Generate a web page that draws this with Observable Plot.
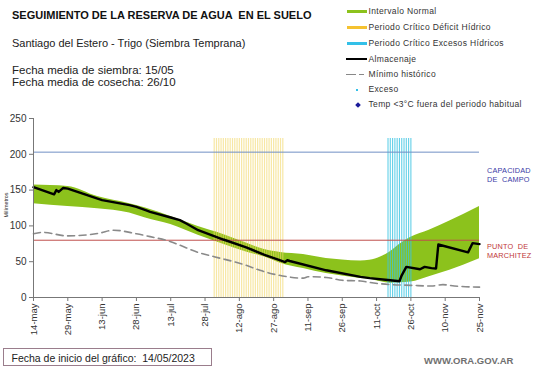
<!DOCTYPE html>
<html><head><meta charset="utf-8">
<script src="https://cdn.jsdelivr.net/npm/d3@7"></script>
<script src="https://cdn.jsdelivr.net/npm/@observablehq/plot@0.6"></script>
<style>
body{margin:0;background:#fff;}
#wrap{position:relative;width:541px;height:368px;overflow:hidden;font-family:"Liberation Sans",Arial,sans-serif;color:#222;background:#fff;}
#wrap svg{position:absolute;left:0;top:0;}
.t{position:absolute;white-space:nowrap;line-height:1;}
.sw{position:absolute;}
</style></head><body><div id="wrap"></div>
<script>
const parse = d3.utcParse("%Y-%m-%d");

// ---- data ----
const tickDates = ["2023-05-14","2023-05-29","2023-06-13","2023-06-28","2023-07-13","2023-07-28","2023-08-12","2023-08-27","2023-09-11","2023-09-26","2023-10-11","2023-10-26","2023-11-10","2023-11-25"];
const tickLabels = ["14-may","29-may","13-jun","28-jun","13-jul","28-jul","12-ago","27-ago","11-sep","26-sep","11-oct","26-oct","10-nov","25-nov"];
const yTicks = [0,50,100,150,200,250];
const capacidadCampo = 203;
const puntoMarchitez = 80;
const barTop = 222;
const deficitDays = ["2023-08-01","2023-08-02","2023-08-03","2023-08-04","2023-08-05","2023-08-06","2023-08-07","2023-08-08","2023-08-09","2023-08-10","2023-08-11","2023-08-12","2023-08-13","2023-08-14","2023-08-15","2023-08-16","2023-08-17","2023-08-18","2023-08-19","2023-08-20","2023-08-21","2023-08-22","2023-08-23","2023-08-24","2023-08-25","2023-08-26","2023-08-27","2023-08-28","2023-08-29","2023-08-30","2023-08-31"];
const excesoDays = ["2023-10-16","2023-10-17","2023-10-18","2023-10-19","2023-10-20","2023-10-21","2023-10-22","2023-10-23","2023-10-24","2023-10-25","2023-10-26"];
const almacenaje = [
  ["2023-05-14",154],["2023-05-23",144],["2023-05-24",150],["2023-05-25",147.5],["2023-05-27",153],["2023-05-29",152],
  ["2023-06-11",138],["2023-06-13",136],["2023-06-25",129],["2023-06-28",126.5],["2023-07-02",122],["2023-07-04",119.6],
  ["2023-07-13",111.7],["2023-07-17",108],["2023-07-20",103],["2023-07-25",94],["2023-08-05",81],["2023-08-15",70],
  ["2023-08-23",59.5],["2023-08-29",53],["2023-09-01",49.5],["2023-09-02",52],["2023-09-03",51],["2023-09-19",38],
  ["2023-10-04",28.8],["2023-10-08",27],["2023-10-17",24],["2023-10-21",22.7],["2023-10-22",31],["2023-10-24",42.7],
  ["2023-10-30",39.5],["2023-11-01",42.7],["2023-11-04",41],["2023-11-06",40.5],["2023-11-07",74],["2023-11-20",63],
  ["2023-11-22",76],["2023-11-25",74.5]
];
const bandDates = ["2023-05-14","2023-05-29","2023-06-11","2023-06-25","2023-07-02","2023-07-13","2023-07-25","2023-08-05","2023-08-15","2023-08-23","2023-08-30","2023-09-09","2023-09-19","2023-09-26","2023-10-04","2023-10-08","2023-10-13","2023-10-17","2023-10-21","2023-10-26","2023-11-03","2023-11-12","2023-11-18","2023-11-25"];
const bandUpper = [157,155,141,131,125,113,99,88,76,67,63,60,54.5,52.5,51,52,57,64,74,84,94,107,116,127];
const bandLower = [131,127,124,118,111,102,87,74.5,63.5,56.5,48,40.5,33.5,30,26.5,25.5,22,20,20.5,21.5,29,38,45,54];
const minimo = [
  ["2023-05-14",89],["2023-05-18",91],["2023-05-29",86],["2023-06-12",90],["2023-06-18",94],["2023-06-28",89],
  ["2023-07-04",85],["2023-07-13",78],["2023-07-17",73],["2023-07-25",63],["2023-08-01",57],["2023-08-15",45],
  ["2023-08-21",38],["2023-09-02",29],["2023-09-09",27],["2023-09-11",29],["2023-09-19",28],["2023-09-26",24],
  ["2023-10-04",23],["2023-10-08",21],["2023-10-17",18],["2023-10-26",17],["2023-11-04",16],["2023-11-09",18],
  ["2023-11-14",16],["2023-11-25",14.5]
];
const legendLabels = ["Intervalo Normal","Periodo Crítico Déficit Hídrico","Periodo Crítico Excesos Hídricos","Almacenaje","Mínimo histórico","Exceso","Temp <3°C fuera del periodo habitual"];
const legendColors = ["#8cc21c","#f5c230","#33c0e8","#000","#888","#33c0e8","#1a1a9a"];

// ---- tables ----
const band = bandDates.map((d,i)=>({date:parse(d), lo:bandLower[i], hi:bandUpper[i]}));
const alm = almacenaje.map(([d,v])=>({date:parse(d), v}));
const minT = minimo.map(([d,v])=>({date:parse(d), v}));
const deficit = deficitDays.map(d=>({date:parse(d)}));
const exceso = excesoDays.map(d=>({date:parse(d)}));
const ticks = tickDates.map(parse);
const labelMap = new Map(ticks.map((d,i)=>[+d, tickLabels[i]]));
const xDomain = [ticks[0], ticks[ticks.length-1]];

const chart = Plot.plot({
  width:541, height:368, marginTop:118, marginBottom:71, marginLeft:33, marginRight:62,
  style:{fontFamily:"'Liberation Sans', Arial, sans-serif", fontSize:"10px", color:"#333", background:"transparent", overflow:"visible"},
  x:{type:"utc", domain:xDomain},
  y:{domain:[0,250]},
  marks:[
    Plot.areaY(band,{x:"date", y1:"lo", y2:"hi", fill:"#8cc21c", curve:"monotone-x"}),
    Plot.ruleX(deficit,{x:"date", y1:0, y2:barTop, stroke:"#f2d768", strokeWidth:1.2, strokeOpacity:0.6}),
    Plot.ruleX(exceso,{x:"date", y1:0, y2:barTop, stroke:"#3cc4e2", strokeWidth:1.1, strokeOpacity:0.8}),
    Plot.ruleY([capacidadCampo],{stroke:"#7090c4", strokeWidth:1}),
    Plot.ruleY([puntoMarchitez],{stroke:"#c0504d", strokeWidth:1}),
    Plot.lineY(minT,{x:"date", y:"v", stroke:"#8a8a8a", strokeWidth:1.6, strokeDasharray:"7,4.5", curve:"monotone-x"}),
    Plot.lineY(alm,{x:"date", y:"v", stroke:"#000", strokeWidth:2.4}),
    Plot.ruleX([xDomain[0]],{y1:0, y2:250, stroke:"#777"}),
    Plot.ruleY([0],{stroke:"#777"}),
    Plot.axisY({ticks:yTicks, tickSize:4, tickPadding:3, label:null, fontSize:10, stroke:"#777", fill:"#333"}),
    Plot.axisX({ticks:ticks, tickFormat:d=>labelMap.get(+d), tickRotate:-90, tickSize:4, tickPadding:2, label:null, fontSize:9.5, stroke:"#777", fill:"#333"})
  ]
});
const wrap = document.getElementById("wrap");
wrap.appendChild(chart);

function txt(s, left, top, css){
  const e=document.createElement("div"); e.className="t"; e.textContent=s;
  e.style.left=left+"px"; e.style.top=top+"px"; Object.assign(e.style, css||{});
  wrap.appendChild(e); return e;
}
function box(left, top, w, h, css){
  const e=document.createElement("div"); e.className="sw";
  Object.assign(e.style,{left:left+"px",top:top+"px",width:w+"px",height:h+"px"},css||{});
  wrap.appendChild(e); return e;
}
txt("SEGUIMIENTO DE LA RESERVA DE AGUA  EN EL SUELO", 12, 10, {fontSize:"11px", fontWeight:"bold", color:"#111", whiteSpace:"pre"});
txt("Santiago del Estero - Trigo (Siembra Temprana)", 12, 38, {fontSize:"11px", color:"#222"});
txt("Fecha media de siembra: 15/05", 12, 65, {fontSize:"11.5px", color:"#222"});
txt("Fecha media de cosecha: 26/10", 12, 76.5, {fontSize:"11.5px", color:"#222"});

// legend
const rowY = [11.7,27.3,43.3,59.3,74.5,89.5,104.5];
legendLabels.forEach((lab,i)=>{
  const y=rowY[i];
  if(i<3) box(347, y-1.8, 20, 3.6, {background:legendColors[i]});
  else if(i===3) box(346, y-1.2, 21, 2.4, {background:legendColors[i]});
  else if(i===4){ box(346, y-0.8, 10, 1.6, {background:legendColors[i]}); box(359, y-0.8, 4.5, 1.6, {background:legendColors[i]}); }
  else if(i===5) box(356, y-1, 2.2, 2.2, {background:legendColors[i]});
  else box(355.5, y-2, 4, 4, {background:legendColors[i], transform:"rotate(45deg)"});
  txt(lab, 368.5, y-4.3, {fontSize:"8.5px", letterSpacing:"0.35px", color:"#333"});
});

txt("CAPACIDAD", 487, 166.5, {fontSize:"7.3px", color:"#3b3ba6", letterSpacing:"0.2px"});
txt("DE  CAMPO", 487, 175.5, {fontSize:"7.3px", color:"#3b3ba6", letterSpacing:"0.2px", whiteSpace:"pre"});
txt("PUNTO  DE", 487, 243, {fontSize:"7.3px", color:"#c03838", letterSpacing:"0.2px", whiteSpace:"pre"});
txt("MARCHITEZ", 487, 251.5, {fontSize:"7.3px", color:"#c03838", letterSpacing:"0.2px"});

const ml = txt("Milímetros", 0, 0, {fontSize:"5.4px", color:"#333"});
ml.style.left="7px"; ml.style.top="205px"; ml.style.transform="translate(-50%,-50%) rotate(-90deg)";

box(3, 348, 209, 18, {border:"1px solid #9a7d8c", boxSizing:"border-box", background:"#fff"});
txt("Fecha de inicio del gráfico:  14/05/2023", 11.5, 352.5, {fontSize:"10.5px", color:"#222", whiteSpace:"pre"});
txt("WWW.ORA.GOV.AR", 424, 355.5, {fontSize:"9.5px", fontWeight:"bold", color:"#707070"});
</script>
</body></html>
